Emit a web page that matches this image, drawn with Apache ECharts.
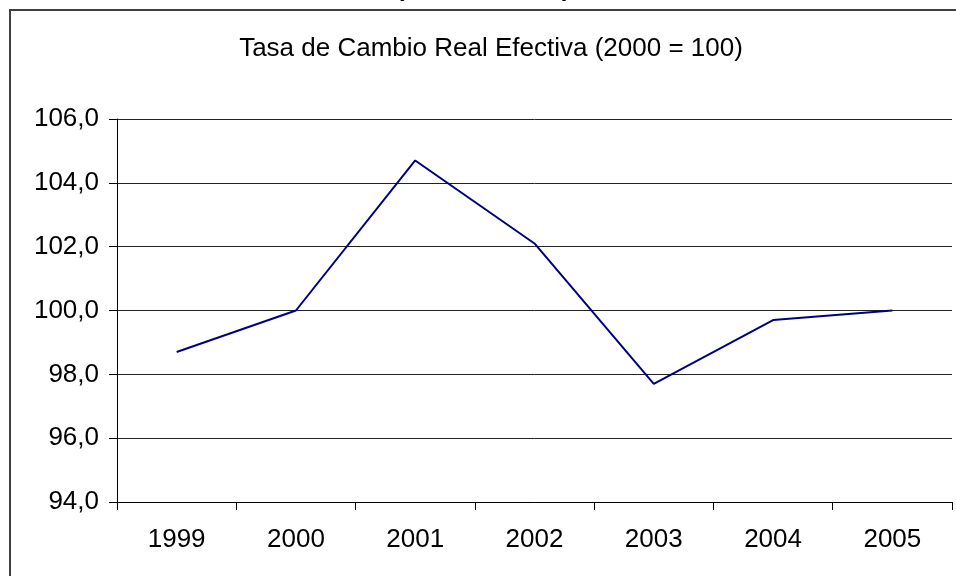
<!DOCTYPE html>
<html>
<head>
<meta charset="utf-8">
<script src="https://cdn.jsdelivr.net/npm/echarts@6/dist/echarts.min.js"></script>
<style>
  html, body { margin: 0; padding: 0; background: #ffffff; }
  #chart { width: 956px; height: 576px; }
</style>
</head>
<body>
<div id="chart"></div>
<script>
var titleText = 'Tasa de Cambio Real Efectiva (2000 = 100)';
var years = ['1999', '2000', '2001', '2002', '2003', '2004', '2005'];
var values = [98.7, 100.0, 104.7, 102.1, 97.7, 99.7, 100.0];
var yMin = 94;
var yMax = 106;
var yStep = 2;

var FONT = '"Liberation Sans", Arial, sans-serif';
var chart = echarts.init(document.getElementById('chart'), null, { renderer: 'canvas' });

chart.setOption({
  animation: false,
  backgroundColor: '#ffffff',
  grid: { left: 117, right: 4, top: 119, bottom: 74, containLabel: false },
  graphic: [
    {
      type: 'rect',
      shape: { x: 10, y: 10, width: 980, height: 620 },
      style: { fill: 'none', stroke: '#404040', lineWidth: 2 },
      silent: true
    },
    {
      type: 'text', x: 396, y: 2,
      style: { text: '(', font: 'bold 25px ' + FONT, fill: '#000', textAlign: 'left', textVerticalAlign: 'bottom' },
      silent: true
    },
    {
      type: 'text', x: 562, y: 2,
      style: { text: ')', font: 'bold 25px ' + FONT, fill: '#000', textAlign: 'left', textVerticalAlign: 'bottom' },
      silent: true
    },
    {
      type: 'text', x: 491, y: 49,
      style: { text: titleText, font: '26px ' + FONT, fill: '#000', textAlign: 'center', textVerticalAlign: 'middle' },
      silent: true
    }
  ],
  xAxis: {
    type: 'category',
    data: years,
    boundaryGap: true,
    axisLine: { show: true, lineStyle: { color: '#000', width: 1 } },
    axisTick: { show: true, length: 8, inside: false, alignWithLabel: false, lineStyle: { color: '#000' } },
    axisLabel: { margin: 25, color: '#000', fontSize: 26, fontFamily: FONT },
    splitLine: { show: false }
  },
  yAxis: {
    type: 'value',
    min: yMin,
    max: yMax,
    interval: yStep,
    axisLine: { show: true, lineStyle: { color: '#000', width: 1 } },
    axisTick: { show: true, length: 8, inside: false, lineStyle: { color: '#000' } },
    axisLabel: {
      margin: 18, color: '#000', fontSize: 26, fontFamily: FONT,
      formatter: function (v) { return v.toFixed(1).replace('.', ','); }
    },
    splitLine: { show: true, lineStyle: { color: '#222', width: 1 } }
  },
  series: [{
    type: 'line',
    data: values,
    symbol: 'none',
    lineStyle: { color: '#000080', width: 2 },
    itemStyle: { color: '#000080' }
  }]
});
</script>
</body>
</html>
